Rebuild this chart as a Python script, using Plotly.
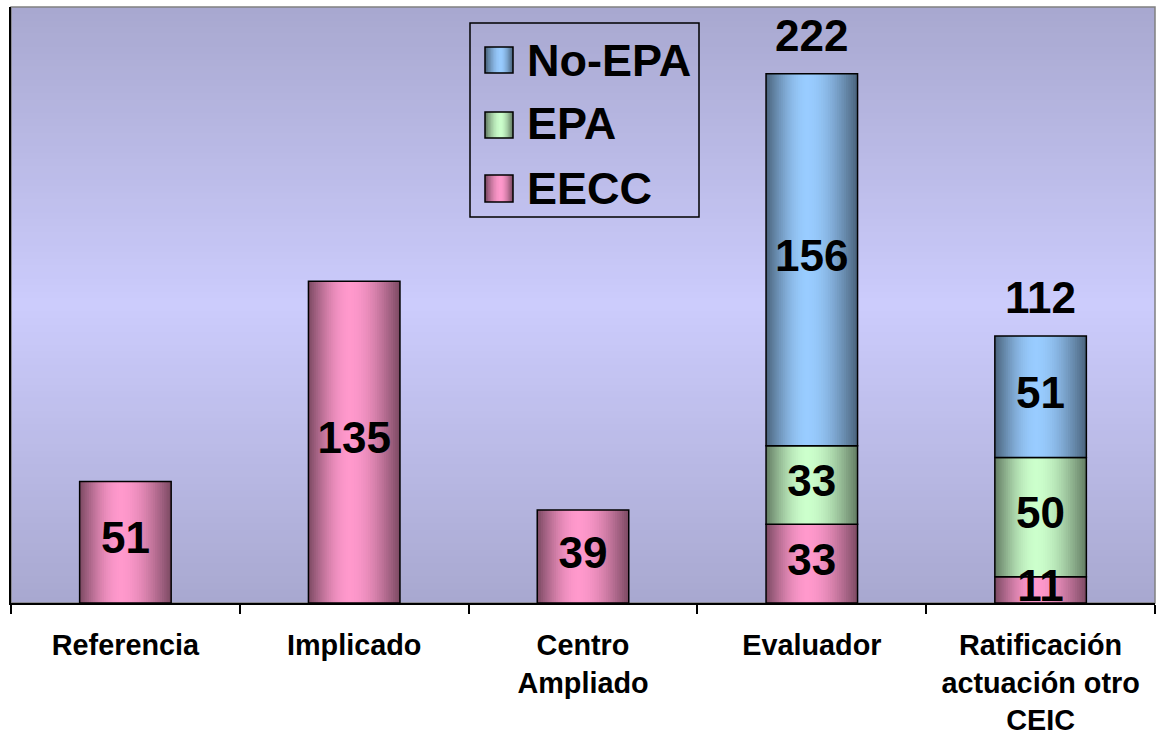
import plotly.graph_objects as go
import math

# ---------------- data ----------------
categories = ["Referencia", "Implicado", "Centro Ampliado", "Evaluador",
              "Ratificación actuación otro CEIC"]
tick_labels = ["Referencia", "Implicado", "Centro<br>Ampliado", "Evaluador",
               "Ratificación<br>actuación otro<br>CEIC"]
series_names = ["EECC", "EPA", "No-EPA"]          # stacking order bottom -> top
eecc = [51, 135, 39, 33, 11]
epa = [0, 0, 0, 33, 50]
no_epa = [0, 0, 0, 156, 51]
series_values = [eecc, epa, no_epa]
series_colors = [(255, 153, 204), (204, 255, 204), (153, 204, 255)]
legend_order = ["No-EPA", "EPA", "EECC"]

FONT = "Liberation Sans, Arial, sans-serif"
W = 0.4          # bar width (category units)
PEAK = 0.45      # position of the highlight across the bar
LEVELS = 22

def shade(rgb, f):
    return "rgb(%d,%d,%d)" % tuple(int(round(c * f)) for c in rgb)

def level_factor(d):
    return 0.5 + 0.5 * math.cos(math.pi / 2 * d)

fig = go.Figure()

# cumulative bases
bases = []
running = [0] * len(categories)
for vals in series_values:
    bases.append(list(running))
    running = [r + v for r, v in zip(running, vals)]
totals = running

# gradient bars (nested layers)
for s, vals in enumerate(series_values):
    yv = [v if v else None for v in vals]
    for k in range(LEVELS):
        d = 1 - k / LEVELS
        left = PEAK - d * PEAK
        width = d * W
        fig.add_trace(go.Bar(
            x=categories, y=yv, base=bases[s],
            width=width, offset=-W / 2 + left * W,
            marker=dict(color=shade(series_colors[s], level_factor(d)), line=dict(width=0)),
            showlegend=False, hoverinfo="skip"))
    # outline
    fig.add_trace(go.Bar(
        x=categories, y=yv, base=bases[s], width=W, offset=-W / 2,
        marker=dict(color="rgba(0,0,0,0)", line=dict(color="black", width=1.5)),
        name=series_names[s], showlegend=False,
        hovertemplate="%{x}: %{y}<extra>" + series_names[s] + "</extra>"))

# segment value labels
for s, vals in enumerate(series_values):
    fig.add_trace(go.Scatter(
        x=categories, y=[b + v / 2 for b, v in zip(bases[s], vals)],
        text=[str(v) if v else "" for v in vals],
        mode="text", textposition="middle center",
        textfont=dict(family=FONT, size=44, color="black", weight="bold"),
        showlegend=False, hoverinfo="skip", cliponaxis=True))

annotations = []
# totals above stacked bars
for c, t in enumerate(totals):
    nseg = sum(1 for vals in series_values if vals[c])
    if nseg > 1:
        annotations.append(dict(x=categories[c], y=t, text=str(t), showarrow=False,
                                yanchor="bottom", yshift=12,
                                font=dict(family=FONT, size=44, color="black", weight="bold")))

# ---------------- decorations ----------------
L, T, PW, PH = 11, 7, 1144, 596
def px(x):
    return (x - L) / PW
def py(y):
    return (T + PH - y) / PH

shapes = []
# background vertical gradient: dark at top/bottom, light in the middle
NB = 90
top_c = (168, 168, 208)
mid_c = (204, 204, 252)
for i in range(NB):
    t = (i + 0.5) / NB
    m = 1 - abs(2 * t - 1)
    col = "rgb(%d,%d,%d)" % tuple(int(round(a + (b - a) * m)) for a, b in zip(top_c, mid_c))
    shapes.append(dict(type="rect", xref="paper", yref="paper",
                       x0=0, x1=1, y0=i / NB, y1=(i + 1.3) / NB if i < NB - 1 else 1,
                       fillcolor=col, line=dict(width=0), layer="below"))
shapes.append(dict(type="rect", xref="paper", yref="paper", x0=0, x1=1, y0=0, y1=1,
                   line=dict(color="#808080", width=1.5), fillcolor="rgba(0,0,0,0)", layer="below"))

# custom legend
shapes.append(dict(type="rect", xref="paper", yref="paper",
                   x0=px(470), x1=px(699), y0=py(217), y1=py(23),
                   line=dict(color="black", width=1.5), fillcolor="rgba(0,0,0,0)", layer="above"))
rows = [(47, 73, 60), (112, 138, 124), (175, 202, 188)]
for name, (y0, y1, yc) in zip(legend_order, rows):
    rgb = series_colors[series_names.index(name)]
    sx0, sx1 = 485, 513
    for k in range(10):
        d = 1 - k / 10
        a = sx0 + (sx1 - sx0) * (0.55 - d * 0.55)
        b = a + (sx1 - sx0) * d
        shapes.append(dict(type="rect", xref="paper", yref="paper",
                           x0=px(a), x1=px(b), y0=py(y1), y1=py(y0),
                           fillcolor=shade(rgb, level_factor(d)), line=dict(width=0), layer="above"))
    shapes.append(dict(type="rect", xref="paper", yref="paper",
                       x0=px(sx0), x1=px(sx1), y0=py(y1), y1=py(y0),
                       line=dict(color="black", width=1.5), fillcolor="rgba(0,0,0,0)", layer="above"))
    annotations.append(dict(xref="paper", yref="paper", x=px(525), y=py(yc),
                            xanchor="left", yanchor="middle", text=name, showarrow=False,
                            font=dict(family=FONT, size=45, color="black", weight="bold")))

fig.update_layout(
    width=1160, height=740,
    margin=dict(l=L, r=1160 - L - PW, t=T, b=740 - T - PH),
    paper_bgcolor="white", plot_bgcolor="rgba(0,0,0,0)",
    barmode="overlay", showlegend=False,
    shapes=shapes, annotations=annotations,
    xaxis=dict(type="category", categoryarray=categories, tickvals=categories,
               ticktext=tick_labels, tickson="boundaries", ticks="outside",
               ticklen=9, tickcolor="black", tickwidth=1.5,
               showline=True, linecolor="black", linewidth=1.5,
               showgrid=False, zeroline=False, ticklabelstandoff=16, automargin=False,
               tickfont=dict(family=FONT, size=28.8, color="black", weight="bold"),
               range=[-0.5, 4.5]),
    yaxis=dict(range=[0, 250], showticklabels=False, showgrid=False, zeroline=False,
               showline=True, linecolor="black", linewidth=1.5, ticks="", automargin=False),
)

fig.write_html("out.html", config={"displayModeBar": False},
               post_script="document.body.style.margin='0px';")
